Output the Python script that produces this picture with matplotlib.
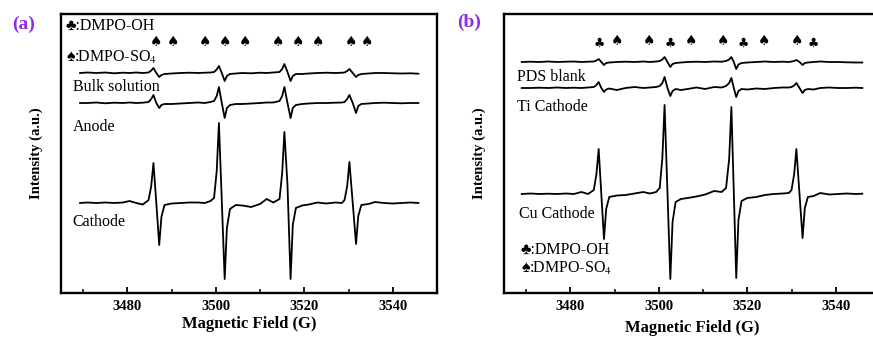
import numpy as np
import matplotlib.pyplot as plt

plt.rcParams['font.family'] = ['Liberation Serif', 'DejaVu Sans']
plt.rcParams['mathtext.fontset'] = 'stix'

# magnetic field grids (G), dense around the four DMPO-OH lines
field_a = [3469.3, 3471, 3473, 3475, 3477, 3479, 3480.5, 3482, 3483.5,
           3484.8, 3485.4, 3485.9, 3486.55, 3487.2, 3487.7, 3488.4,
           3490, 3492, 3494, 3496, 3497.5, 3498.8,
           3499.6, 3500.2, 3500.7, 3501.35, 3502.0, 3502.5, 3503.2,
           3504.5, 3506, 3508, 3510, 3511.5, 3513,
           3514.4, 3515.0, 3515.5, 3516.2, 3516.9, 3517.4, 3518.1,
           3519.5, 3521, 3523, 3525, 3527, 3528.5,
           3529.1, 3529.7, 3530.2, 3530.95, 3531.7, 3532.2, 3532.9,
           3534.5, 3536, 3538, 3540, 3542, 3544, 3545.8]

field_b = [3469.0, 3471, 3473, 3475, 3477, 3479, 3480.8, 3482.5, 3484,
           3485.3, 3485.9, 3486.4, 3487.0, 3487.6, 3488.1, 3488.8,
           3490.5, 3492.5, 3494.5, 3496.5, 3498, 3499.4,
           3500.2, 3500.8, 3501.3, 3501.95, 3502.6, 3503.1, 3503.8,
           3505, 3506.5, 3508.5, 3510.5, 3512.5, 3514.2,
           3515.2, 3515.9, 3516.4, 3516.95, 3517.5, 3518.0, 3518.7,
           3520, 3522, 3524, 3526, 3528, 3529.4,
           3530.0, 3530.6, 3531.1, 3531.8, 3532.5, 3533.0, 3533.7,
           3535, 3536.5, 3538.5, 3540.5, 3542.5, 3544.5, 3546.0]

# panel (a) spectra, intensity relative to each baseline (a.u.)
bulk = [0, 0.5, 0, 0.5, -0.3, 0.3, 0, 0.5, 0,
        0.5, 2.5, 5, 0, -4, -2, -1,
        -0.5, 0, 0.3, 0, 0.3, 0.5,
        1, 3.5, 7, 0, -8, -3, -1,
        -0.5, 0, -0.3, 0.3, 0, 0.5,
        1, 4, 9, 1, -8, -3, -1,
        -1, -0.5, 0, 0.3, 0, 0.3,
        0.5, 2, 4, 0, -4, -2, -1,
        -0.5, 0, 0, -0.3, -0.5, -0.3, -0.7]
anode = [0, 0, 0.5, -0.3, 0.3, 0, 0.5, 0, 0.3,
         1, 4, 8, 0, -5, -2, -1,
         -1, -0.5, 0, 0.5, 0, 1,
         2, 7, 16, 0, -15, -5, -2,
         -1, -1, -0.5, 0, 0.5, 0.5,
         2, 7, 16, 0, -15, -5, -2,
         -1, -0.5, 0, 0, 0.3, 0.5,
         1, 4, 8, 0, -10, -3, -1,
         -0.5, 0, 0.3, 0, -0.3, 0, 0]
cathode = [0, 0.5, 0, 0.5, 0, 0.5, 2, 0, -1.5,
           3, 17, 40, 0, -42, -14, -2,
           -0.5, 0, 0.5, 0.5, 0, 2,
           5, 32, 80, 2, -76, -25, -6,
           -2, -2.5, -4, -1, 4, 0.5,
           4, 30, 71, 18, -76, -22, -5,
           -2.5, -1.5, 0.5, -0.5, 0.5, 0,
           3, 17, 41, 0, -41, -13, -2,
           -1, 1, 0, -0.5, 0, 0.5, 0]

# panel (b) spectra
pds_blank = [0, 0.3, 0, 0.5, 0, 0.3, 0.5, 0, 0.3,
             0.5, 1.5, 3, 0, -3, -1, -0.5,
             0, 0.3, 0, 0.5, 0, 0.5,
             1, 2.5, 5, 0, -5, -2, -1,
             -0.5, 0, 0.3, 0, 0.5, 0.3,
             1, 2.5, 5, 0, -7, -2.5, -1,
             -0.5, 0, 0.5, 0, 0.3, 0,
             0.5, 1, 2, 0, -3, -1, -0.5,
             0, 0.5, 0, 0, -0.3, -0.5, -0.5]
ti_cathode = [0, 0, 0.3, 0, 0.5, 0, 0.3, 0, 0.5,
              1, 3, 6, 0, -4, -1.5, -0.5,
              -2, 0, 1, 0, 0.5, 1,
              2, 5, 11, 0, -8, -3, -1,
              -2, -1, 0.5, -1, 1, 0.5,
              2, 5, 10, 0, -9, -3, -1,
              -1.5, -0.5, -1, 0, 0.5, 0.5,
              1, 2.5, 5, 0, -5, -2, -1,
              -1.5, 0, 0.5, 0, 0, 0.3, 0]
cu_cathode = [0, 0.5, 0, 0.3, 0, 0.5, 0, 2, 0,
              4, 20, 45, 0, -45, -15, -3,
              -1.5, -1, 0.5, 2, 0.5, 2,
              6, 36, 89, 2, -85, -28, -8,
              -5, -4, -2.5, -0.5, 3, 2,
              6, 35, 87, 2, -84, -26, -7,
              -4, -3, -1, 0, 0.5, 1,
              4, 20, 45, 0, -44, -14, -3,
              -2, 1, -0.5, 0, 0.5, 0, 0.3]

offsets_a = [220, 190, 90]
offsets_b = [231, 205, 99]

# marker line positions (G): club = DMPO-OH, spade = DMPO-SO4
marks_a = [3486.6, 3490.4, 3497.5, 3502.2, 3506.7, 3514.0, 3518.6, 3523.2, 3530.6, 3534.3]
kinds_a = ['s', 's', 's', 's', 's', 's', 's', 's', 's', 's']
marks_b = [3486.6, 3490.6, 3497.7, 3502.5, 3507.2, 3514.5, 3519.0, 3523.8, 3531.3, 3534.9]
kinds_b = ['c', 's', 's', 'c', 's', 's', 'c', 's', 's', 'c']

SYM = {'c': '\u2663', 's': '\u2660'}

fig = plt.figure(figsize=(8.73, 3.38), dpi=100)
ax_a = fig.add_axes([61 / 873, 45 / 338, 376 / 873, 279 / 338])
ax_b = fig.add_axes([504 / 873, 45 / 338, 376 / 873, 279 / 338])


def style(ax):
    ax.set_xlim(3465, 3550)
    ax.set_ylim(0, 279)
    ax.set_xticks([3480, 3500, 3520, 3540])
    ax.set_xticks([3470, 3490, 3510, 3530], minor=True)
    ax.set_yticks([])
    ax.tick_params(axis='x', which='major', direction='in', length=4, width=1.3,
                   labelsize=10.5, pad=5)
    ax.tick_params(axis='x', which='minor', direction='in', length=3, width=1.1)
    for lab in ax.get_xticklabels():
        lab.set_fontweight('bold')
    for sp in ax.spines.values():
        sp.set_linewidth(1.7)
    ax.set_ylabel('Intensity (a.u.)', fontsize=10.5, fontweight='bold', labelpad=13)


def text_px(ax, x_px, base_px, s, ax_left):
    ax.text((x_px - ax_left) / 376, (293 - base_px) / 279, s, transform=ax.transAxes,
            fontsize=11.5, va='baseline', ha='left')


# panel (a)
for vals, off in zip([bulk, anode, cathode], offsets_a):
    ax_a.plot(field_a, np.array(vals) + off, color='black', lw=1.3)
for f, k in zip(marks_a, kinds_a):
    ax_a.text(f, 251, SYM[k], fontsize=10, ha='center', va='center',
              family=['DejaVu Sans'])
style(ax_a)
ax_a.set_xlabel('Magnetic Field (G)', fontsize=12, fontweight='bold', labelpad=2)
text_px(ax_a, 66, 30, '\u2663:DMPO-OH', 61)
text_px(ax_a, 66, 61.7, '\u2660:DMPO-SO$_4$', 61)
text_px(ax_a, 72.7, 91, 'Bulk solution', 61)
text_px(ax_a, 72.7, 130.7, 'Anode', 61)
text_px(ax_a, 72.7, 225.7, 'Cathode', 61)

# panel (b)
for vals, off in zip([pds_blank, ti_cathode, cu_cathode], offsets_b):
    ax_b.plot(field_b, np.array(vals) + off, color='black', lw=1.3)
for f, k in zip(marks_b, kinds_b):
    ax_b.text(f, 252 if k == 's' else 250, SYM[k], fontsize=10 if k == 's' else 9,
              ha='center', va='center', family=['DejaVu Sans'])
style(ax_b)
ax_b.set_xlabel('Magnetic Field (G)', fontsize=12, fontweight='bold', labelpad=5)
text_px(ax_b, 517, 81, 'PDS blank', 504)
text_px(ax_b, 517, 111, 'Ti Cathode', 504)
text_px(ax_b, 519.3, 218.3, 'Cu Cathode', 504)
text_px(ax_b, 521, 254, '\u2663:DMPO-OH', 504)
text_px(ax_b, 521, 273.3, '\u2660:DMPO-SO$_4$', 504)

fig.text(24 / 873, 1 - 24 / 338, '(a)', fontsize=14, fontweight='bold',
         color='#8F2BE8', ha='center', va='center')
fig.text(469 / 873, 1 - 22 / 338, '(b)', fontsize=14, fontweight='bold',
         color='#8F2BE8', ha='center', va='center')

fig.savefig('out.png', dpi=100)
